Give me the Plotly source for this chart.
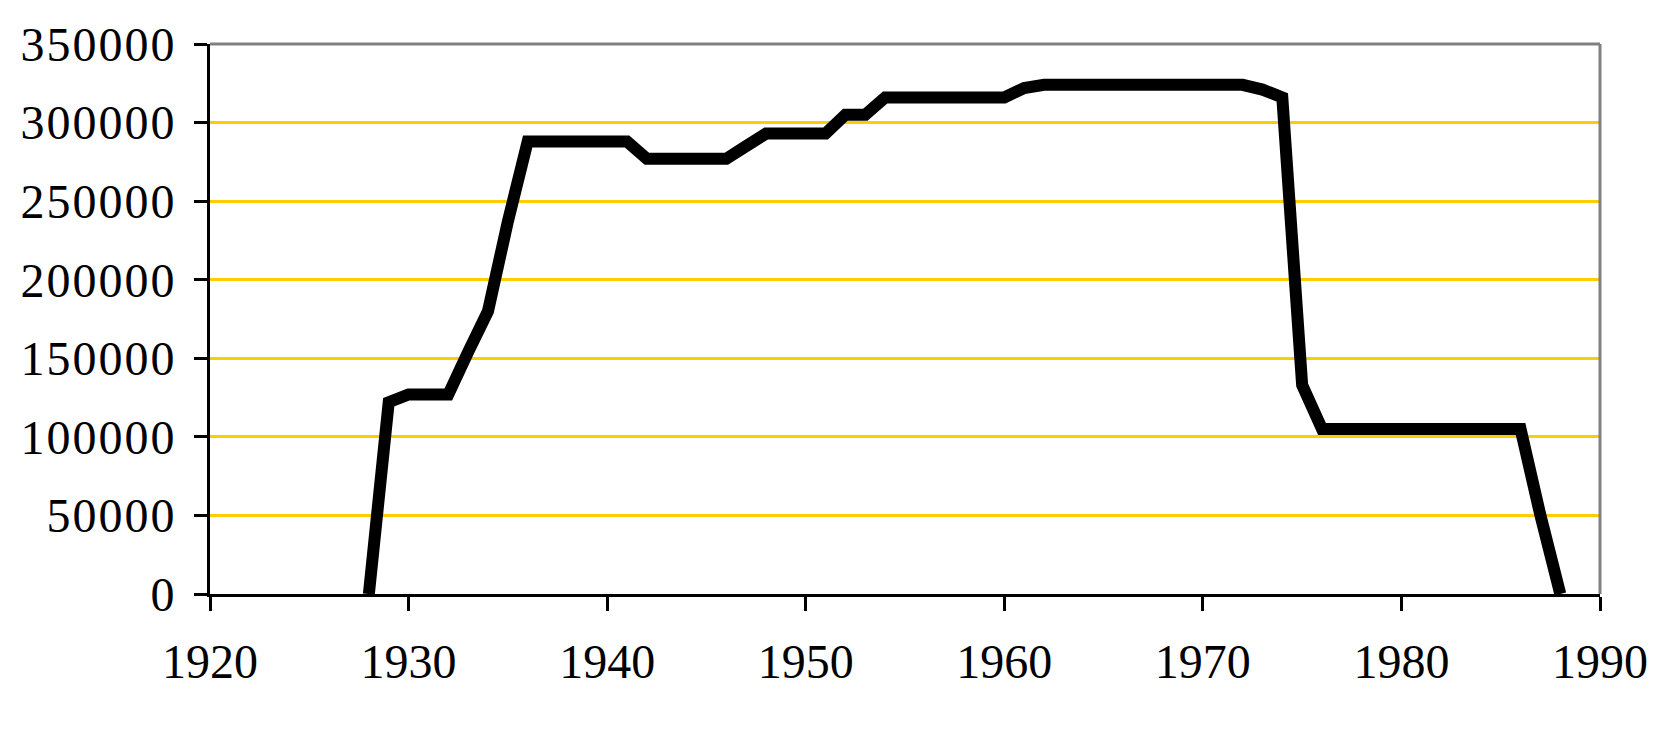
import plotly.graph_objects as go

years = list(range(1928, 1989))
values = [
    0, 122000, 127000, 127000, 127000, 154000, 180000, 237000, 288000, 288000,   # 1928-1937
    288000, 288000, 288000, 288000, 277000, 277000, 277000, 277000, 277000, 285000,  # 1938-1947
    293000, 293000, 293000, 293000, 305000, 305000, 316000, 316000, 316000, 316000,  # 1948-1957
    316000, 316000, 316000, 322000, 324000, 324000, 324000, 324000, 324000, 324000,  # 1958-1967
    324000, 324000, 324000, 324000, 324000, 321000, 316000, 133000, 105000, 105000,  # 1968-1977
    105000, 105000, 105000, 105000, 105000, 105000, 105000, 105000, 105000, 50000,   # 1978-1987
    0,                                                                               # 1988
]

x_ticks = [1920, 1930, 1940, 1950, 1960, 1970, 1980, 1990]
x_ticklabels = [str(v) for v in x_ticks]
y_ticks = [0, 50000, 100000, 150000, 200000, 250000, 300000, 350000]
y_ticklabels = [str(v) for v in y_ticks]

fig = go.Figure()
fig.add_trace(go.Scatter(
    x=years, y=values, mode="lines",
    line=dict(color="black", width=12),
    showlegend=False, hoverinfo="x+y",
))

font_family = "Liberation Serif"

fig.update_layout(
    width=1664, height=731,
    paper_bgcolor="white", plot_bgcolor="white",
    margin=dict(l=210, r=64, t=44, b=137),
    font=dict(family=font_family, color="black"),
    xaxis=dict(
        range=[1920, 1990],
        tickvals=x_ticks, ticktext=x_ticklabels,
        ticks="outside", ticklen=14, tickwidth=3, tickcolor="black",
        showline=True, linewidth=3, linecolor="black",
        showgrid=False, zeroline=False,
        tickfont=dict(family=font_family, size=48, color="black"),
        ticklabelstandoff=9,
        layer="below traces",
    ),
    yaxis=dict(
        range=[0, 350000],
        tickvals=y_ticks, ticktext=y_ticklabels,
        ticks="outside", ticklen=13, tickwidth=3, tickcolor="black",
        showline=True, linewidth=3, linecolor="black",
        showgrid=True, gridcolor="#FFCC00", gridwidth=3,
        zeroline=False,
        tickfont=dict(family=font_family, size=48, color="black"),
        ticklabelstandoff=8,
        layer="below traces",
    ),
    shapes=[
        dict(type="line", xref="paper", yref="paper", x0=0, x1=1, y0=1, y1=1,
             line=dict(color="#808080", width=3), layer="above"),
        dict(type="line", xref="paper", yref="paper", x0=1, x1=1, y0=0, y1=1,
             line=dict(color="#808080", width=3), layer="above"),
    ],
)

fig.write_html(
    "out.html",
    config={"displayModeBar": False},
    post_script=(
        "document.body.style.margin='0';"
        "document.body.style.overflow='hidden';"
        "document.querySelectorAll('.ytick text').forEach(function(t){t.style.letterSpacing='2px';});"
    ),
)
